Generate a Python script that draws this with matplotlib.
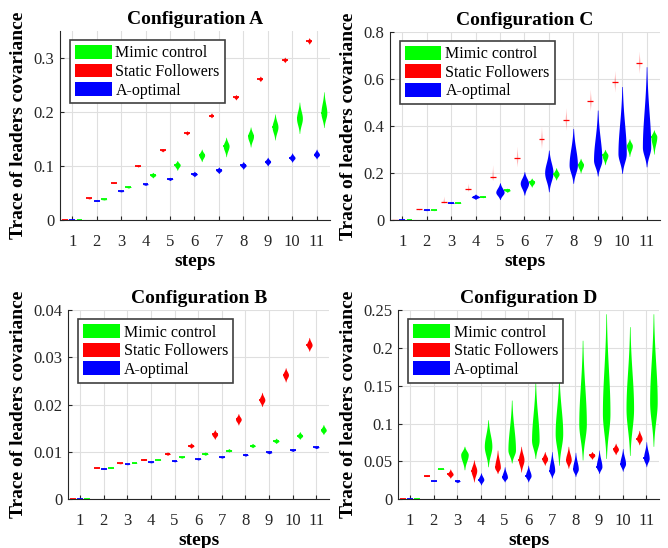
import numpy as np
import matplotlib
matplotlib.use("Agg")
import matplotlib.pyplot as plt
from matplotlib.patches import Patch

plt.rcParams['font.family'] = ['Liberation Serif', 'DejaVu Serif']

steps = list(range(1, 12))
series_names = ["Mimic control", "Static Followers", "A-optimal"]

# ---------------- Configuration A ----------------
A_red_med = [0, 0.040, 0.069, 0.100, 0.129, 0.161, 0.193, 0.227, 0.261, 0.296, 0.331]
A_red_lo = [0, 0.039, 0.068, 0.098, 0.126, 0.157, 0.189, 0.222, 0.256, 0.291, 0.325]
A_red_hi = [0, 0.041, 0.070, 0.102, 0.132, 0.165, 0.198, 0.232, 0.266, 0.301, 0.337]
A_blue_med = [0, 0.036, 0.053, 0.066, 0.076, 0.085, 0.092, 0.101, 0.108, 0.115, 0.121]
A_blue_lo = [0, 0.035, 0.052, 0.064, 0.073, 0.080, 0.086, 0.094, 0.100, 0.107, 0.113]
A_blue_hi = [0, 0.037, 0.054, 0.068, 0.079, 0.090, 0.098, 0.108, 0.116, 0.124, 0.131]
A_green_med = [0, 0.038, 0.061, 0.083, 0.102, 0.120, 0.137, 0.155, 0.172, 0.188, 0.198]
A_green_lo = [0, 0.037, 0.059, 0.078, 0.092, 0.108, 0.117, 0.135, 0.148, 0.160, 0.171]
A_green_hi = [0, 0.039, 0.063, 0.088, 0.110, 0.131, 0.153, 0.172, 0.196, 0.218, 0.237]

# ---------------- Configuration C ----------------
C_red_med = [0, 0.045, 0.076, 0.130, 0.181, 0.262, 0.343, 0.424, 0.504, 0.586, 0.666]
C_red_lo = [0, 0.043, 0.072, 0.122, 0.168, 0.227, 0.305, 0.383, 0.465, 0.545, 0.625]
C_red_hi = [0, 0.048, 0.101, 0.156, 0.233, 0.311, 0.396, 0.475, 0.553, 0.633, 0.715]
C_blue_med = [0, 0.041, 0.072, 0.098, 0.118, 0.156, 0.201, 0.234, 0.255, 0.283, 0.310]
C_blue_lo = [0, 0.040, 0.070, 0.088, 0.087, 0.106, 0.120, 0.156, 0.187, 0.198, 0.226]
C_blue_hi = [0, 0.042, 0.075, 0.110, 0.158, 0.205, 0.297, 0.389, 0.467, 0.567, 0.651]
C_green_med = [0, 0.041, 0.072, 0.098, 0.126, 0.161, 0.195, 0.235, 0.275, 0.316, 0.354]
C_green_lo = [0, 0.040, 0.070, 0.095, 0.118, 0.140, 0.170, 0.200, 0.235, 0.270, 0.280]
C_green_hi = [0, 0.042, 0.074, 0.102, 0.135, 0.178, 0.222, 0.262, 0.300, 0.345, 0.383]

# ---------------- Configuration B ----------------
B_red_med = [0, 0.0067, 0.0076, 0.0084, 0.0096, 0.0113, 0.0137, 0.0169, 0.0210, 0.0263, 0.0326]
B_red_lo = [0, 0.0066, 0.0075, 0.0082, 0.0093, 0.0108, 0.0127, 0.0157, 0.0196, 0.0248, 0.0313]
B_red_hi = [0, 0.0068, 0.0077, 0.0086, 0.0100, 0.0119, 0.0147, 0.0181, 0.0226, 0.0278, 0.0342]
B_blue_med = [0, 0.0065, 0.0074, 0.0078, 0.0081, 0.0085, 0.0089, 0.0094, 0.0099, 0.0104, 0.0110]
B_blue_lo = [0, 0.0064, 0.0073, 0.0077, 0.0079, 0.0083, 0.0087, 0.0091, 0.0096, 0.0101, 0.0107]
B_blue_hi = [0, 0.0066, 0.0075, 0.0079, 0.0083, 0.0087, 0.0091, 0.0097, 0.0102, 0.0107, 0.0113]
B_green_med = [0, 0.0067, 0.0077, 0.0084, 0.0089, 0.0096, 0.0103, 0.0113, 0.0123, 0.0134, 0.0146]
B_green_lo = [0, 0.0066, 0.0076, 0.0083, 0.0087, 0.0093, 0.0100, 0.0109, 0.0118, 0.0127, 0.0137]
B_green_hi = [0, 0.0068, 0.0078, 0.0085, 0.0091, 0.0100, 0.0107, 0.0118, 0.0129, 0.0143, 0.0158]

# ---------------- Configuration D ----------------
D_red_med = [0, 0.031, 0.033, 0.038, 0.042, 0.052, 0.053, 0.052, 0.058, 0.066, 0.080]
D_red_lo = [0, 0.030, 0.028, 0.023, 0.034, 0.036, 0.045, 0.041, 0.053, 0.059, 0.072]
D_red_hi = [0, 0.032, 0.040, 0.052, 0.065, 0.070, 0.063, 0.070, 0.063, 0.074, 0.091]
D_blue_med = [0, 0.024, 0.024, 0.026, 0.029, 0.031, 0.038, 0.040, 0.043, 0.047, 0.054]
D_blue_lo = [0, 0.0235, 0.022, 0.019, 0.023, 0.023, 0.028, 0.030, 0.034, 0.037, 0.043]
D_blue_hi = [0, 0.0245, 0.026, 0.035, 0.043, 0.045, 0.063, 0.062, 0.065, 0.067, 0.076]
D_green_med = [0, 0.040, 0.059, 0.070, 0.065, 0.078, 0.087, 0.100, 0.114, 0.120, 0.129]
D_green_lo = [0, 0.0395, 0.039, 0.043, 0.048, 0.054, 0.045, 0.052, 0.054, 0.058, 0.070]
D_green_hi = [0, 0.0405, 0.070, 0.105, 0.131, 0.155, 0.162, 0.210, 0.245, 0.228, 0.245]

A_yticks = [0, 0.1, 0.2, 0.3]
A_yticklabels = ["0", "0.1", "0.2", "0.3"]
C_yticks = [0, 0.2, 0.4, 0.6, 0.8]
C_yticklabels = ["0", "0.2", "0.4", "0.6", "0.8"]
B_yticks = [0, 0.01, 0.02, 0.03, 0.04]
B_yticklabels = ["0", "0.01", "0.02", "0.03", "0.04"]
D_yticks = [0, 0.05, 0.1, 0.15, 0.2, 0.25]
D_yticklabels = ["0", "0.05", "0.1", "0.15", "0.2", "0.25"]

COL = {"green": (0, 1, 0), "red": (1, 0, 0), "blue": (0, 0, 1)}
OFFSET = {"red": -0.3, "blue": 0.0, "green": 0.3}

configs = [
    ("Configuration A", [0.0898, 0.5985, 0.4042, 0.3455], 0.35, A_yticks, A_yticklabels,
     {"red": (A_red_med, A_red_lo, A_red_hi), "blue": (A_blue_med, A_blue_lo, A_blue_hi),
      "green": (A_green_med, A_green_lo, A_green_hi)}, {"red": (0.08, 1.0)}),
    ("Configuration C", [0.5838, 0.5985, 0.4042, 0.3437], 0.8, C_yticks, C_yticklabels,
     {"red": (C_red_med, C_red_lo, C_red_hi), "blue": (C_blue_med, C_blue_lo, C_blue_hi),
      "green": (C_green_med, C_green_lo, C_green_hi)}, {"red": (0.03, 0.3), "blue": (0.17, 1.0)}),
    ("Configuration B", [0.1023, 0.0889, 0.3907, 0.3454], 0.04, B_yticks, B_yticklabels,
     {"red": (B_red_med, B_red_lo, B_red_hi), "blue": (B_blue_med, B_blue_lo, B_blue_hi),
      "green": (B_green_med, B_green_lo, B_green_hi)}, {}),
    ("Configuration D", [0.5963, 0.0889, 0.3907, 0.3454], 0.25, D_yticks, D_yticklabels,
     {"red": (D_red_med, D_red_lo, D_red_hi), "blue": (D_blue_med, D_blue_lo, D_blue_hi),
      "green": (D_green_med, D_green_lo, D_green_hi)}, {"green": (0.16, 1.0)}),
]

W_DEFAULT = 0.12


def draw_violin(ax, pos, med, lo, hi, color, w, alpha, medlw):
    ax.hlines(med, pos - 0.12, pos + 0.12, color=color, lw=medlw, zorder=3)
    if hi - lo <= 1e-9:
        return
    y = np.linspace(lo, hi, 300)
    up = max(hi - med, 1e-12)
    dn = max(med - lo, 1e-12)
    z = np.where(y >= med, (y - med) / up, (med - y) / dn)
    hw = w * np.exp(-0.5 * (2.3 * z) ** 2)
    ax.fill_betweenx(y, pos - hw, pos + hw, color=color, lw=0, alpha=alpha, zorder=3)


fig = plt.figure(figsize=(6.68, 5.48), dpi=100)
for title, rect, ytop, yt, ytl, data, styles in configs:
    ax = fig.add_axes(rect)
    for key in ["red", "blue", "green"]:
        med, lo, hi = data[key]
        w, alpha = styles.get(key, (W_DEFAULT, 1.0))
        medlw = 1.3 if alpha == 1.0 else 0.9
        for i, s in enumerate(steps):
            draw_violin(ax, s + OFFSET[key], med[i], lo[i], hi[i], COL[key], w, alpha, medlw)
    ax.set_xlim(0.5, 11.55)
    ax.set_ylim(0, ytop)
    ax.set_xticks(steps)
    ax.set_xticklabels([str(s) for s in steps])
    ax.set_yticks(yt)
    ax.set_yticklabels(ytl)
    ax.grid(True, color='#dfdfdf', lw=0.8)
    ax.set_axisbelow(True)
    for sp in ["top", "right"]:
        ax.spines[sp].set_visible(False)
    for sp in ["left", "bottom"]:
        ax.spines[sp].set_color('#262626')
        ax.spines[sp].set_linewidth(0.8)
    ax.tick_params(direction='in', length=3, labelsize=12, colors='#262626')
    ax.tick_params(axis='x', pad=10)
    ax.tick_params(axis='y', pad=4)
    ax.set_title(title, fontsize=14, fontweight='bold', pad=5)
    ax.set_xlabel("steps", fontsize=14, fontweight='bold', labelpad=2)
    ax.set_ylabel("Trace of leaders covariance", fontsize=14, fontweight='bold', labelpad=5)
    handles = [Patch(facecolor=COL["green"], edgecolor='none'),
               Patch(facecolor=COL["red"], edgecolor='none'),
               Patch(facecolor=COL["blue"], edgecolor='none')]
    leg = ax.legend(handles, series_names, loc='upper left', bbox_to_anchor=(0.037, 0.95),
                    borderaxespad=0, fontsize=11.5, handlelength=2.3, handleheight=0.95,
                    handletextpad=0.25, labelspacing=0.14, borderpad=0.3, fancybox=False,
                    framealpha=1, edgecolor='#404040')
    leg.get_frame().set_linewidth(1.2)

fig.savefig("out.png", dpi=100)
